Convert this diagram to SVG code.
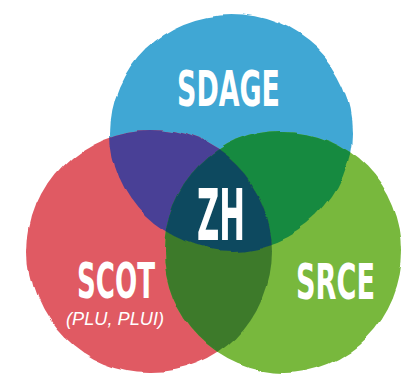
<svg xmlns="http://www.w3.org/2000/svg" width="405" height="374" viewBox="0 0 405 374">
  <defs>
    <filter id="wc" filterUnits="userSpaceOnUse" x="0" y="0" width="405" height="374">
      <feTurbulence type="fractalNoise" baseFrequency="0.018" numOctaves="2" seed="7" result="n"/>
      <feDisplacementMap in="SourceGraphic" in2="n" scale="9" xChannelSelector="R" yChannelSelector="G"/>
    </filter>
    <ellipse id="eB" cx="231" cy="133" rx="121" ry="118"/>
    <ellipse id="eR" cx="150" cy="251" rx="122" ry="122"/>
    <ellipse id="eG" cx="283" cy="252" rx="119" ry="121"/>
    <clipPath id="cB"><use href="#eB"/></clipPath>
    <clipPath id="cR"><use href="#eR"/></clipPath>
    <clipPath id="cG"><use href="#eG"/></clipPath>
    <style>
      .lbl { fill: #ffffff; font-family: "DejaVu Sans Condensed", "DejaVu Sans", sans-serif; font-weight: bold; text-anchor: middle; }
      .sub { fill: #ffffff; font-family: "Liberation Sans", Arial, sans-serif; font-style: italic; text-anchor: middle; }
    </style>
  </defs>
  <rect width="405" height="374" fill="#ffffff"/>

  <g id="sdage">
    <g filter="url(#wc)"><use href="#eB" fill="#3fa7d4"/></g>
    <text class="lbl" x="228.5" y="106" font-size="50" textLength="103" lengthAdjust="spacingAndGlyphs">SDAGE</text>
  </g>

  <g id="scot">
    <g filter="url(#wc)"><use href="#eR" fill="#e05a64"/></g>
    <text class="lbl" x="116" y="298" font-size="49" textLength="78" lengthAdjust="spacingAndGlyphs">SCOT</text>
    <text class="sub" x="115" y="325" font-size="19" textLength="98" lengthAdjust="spacingAndGlyphs">(PLU, PLUI)</text>
  </g>

  <g id="srce">
    <g filter="url(#wc)"><use href="#eG" fill="#78b83d"/></g>
    <text class="lbl" x="335.5" y="299" font-size="50" textLength="79" lengthAdjust="spacingAndGlyphs">SRCE</text>
  </g>

  <g id="overlaps" filter="url(#wc)">
    <g clip-path="url(#cR)"><use href="#eB" fill="#493f96"/></g>
    <g clip-path="url(#cG)"><use href="#eB" fill="#178a3f"/></g>
    <g clip-path="url(#cG)"><use href="#eR" fill="#3d7a2b"/></g>
  </g>

  <g id="zh">
    <g filter="url(#wc)">
      <g clip-path="url(#cR)"><g clip-path="url(#cG)"><use href="#eB" fill="#0f4a5f"/></g></g>
    </g>
    <text class="lbl" x="221" y="240" font-size="72" textLength="48" lengthAdjust="spacingAndGlyphs">ZH</text>
  </g>
</svg>
